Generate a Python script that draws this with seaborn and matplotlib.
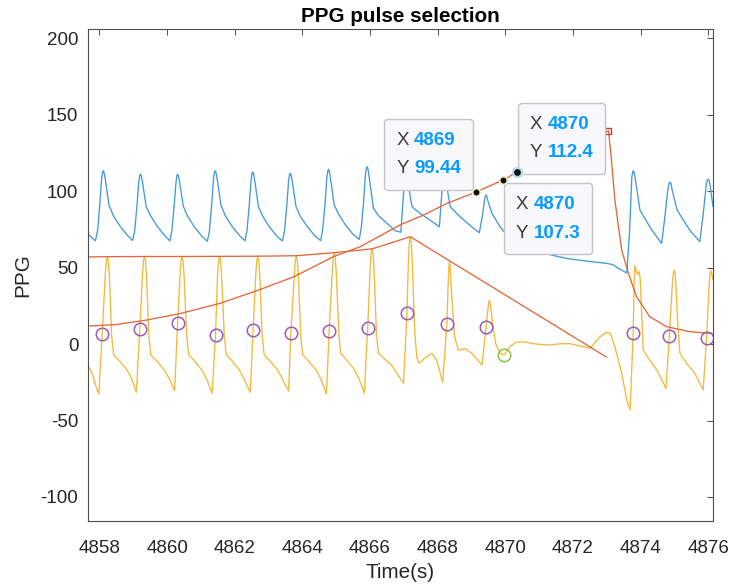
import matplotlib
matplotlib.use("Agg")
import matplotlib.pyplot as plt
import numpy as np
import pandas as pd
import seaborn as sns
from matplotlib.offsetbox import TextArea, HPacker, VPacker, AnnotationBbox, DrawingArea

# ---------------- data ----------------
blue_pts = [
    (4857.66, 72.0), (4857.80, 69.0), (4857.88, 67.6), (4857.95, 75), (4858.01, 92), (4858.06, 107.5),
    (4858.09, 112.3), (4858.11, 113.4), (4858.13, 112.6), (4858.16, 109.5), (4858.28, 91), (4858.41, 84),
    (4858.61, 77), (4858.83, 71), (4858.98, 67.8),
    (4859.04, 74), (4859.11, 91), (4859.16, 106), (4859.19, 110.2), (4859.21, 111.2), (4859.23, 110.4),
    (4859.26, 107.5), (4859.38, 90), (4859.51, 84), (4859.71, 77), (4859.93, 71), (4860.08, 67.5),
    (4860.14, 74), (4860.21, 91), (4860.26, 105.5), (4860.29, 110.1), (4860.31, 111.1), (4860.33, 110.3),
    (4860.36, 107), (4860.48, 90), (4860.61, 83.5), (4860.81, 76.5), (4861.03, 70.5), (4861.19, 67.3),
    (4861.25, 74), (4861.32, 92), (4861.37, 108), (4861.40, 112.4), (4861.42, 113.4), (4861.44, 112.6),
    (4861.47, 109.5), (4861.59, 91), (4861.72, 84), (4861.92, 77), (4862.14, 71), (4862.30, 67.6),
    (4862.36, 74), (4862.43, 91.5), (4862.48, 107), (4862.51, 111.6), (4862.53, 112.6), (4862.55, 111.8),
    (4862.58, 108.5), (4862.70, 90), (4862.83, 83.5), (4863.03, 76.5), (4863.25, 70.5), (4863.41, 67.4),
    (4863.47, 74), (4863.54, 91), (4863.59, 106.5), (4863.62, 110.7), (4863.64, 111.7), (4863.66, 110.9),
    (4863.69, 108), (4863.81, 90), (4863.94, 83.5), (4864.14, 77), (4864.36, 71), (4864.54, 67.7),
    (4864.60, 75), (4864.67, 92), (4864.72, 108.5), (4864.75, 113.3), (4864.77, 114.3), (4864.79, 113.5),
    (4864.82, 110), (4864.94, 91), (4865.07, 85), (4865.27, 78), (4865.49, 72), (4865.68, 68.5),
    (4865.74, 76), (4865.81, 93), (4865.86, 110.5), (4865.89, 115), (4865.91, 116), (4865.93, 115.2),
    (4865.96, 111.5), (4866.10, 88.8), (4866.25, 84), (4866.50, 79), (4866.74, 74.2), (4866.91, 73.2),
    (4866.98, 95), (4867.02, 108), (4867.04, 111), (4867.06, 112), (4867.08, 111), (4867.10, 108),
    (4867.24, 89.9), (4867.48, 85.5), (4867.78, 81), (4868.05, 76.8),
    (4868.11, 95), (4868.15, 108), (4868.17, 111), (4868.19, 112), (4868.21, 111), (4868.23, 108),
    (4868.37, 89.9), (4868.66, 83.3), (4869.06, 75.7), (4869.23, 72.9),
    (4869.33, 85), (4869.39, 95), (4869.41, 97), (4869.43, 97.5), (4869.45, 97), (4869.48, 94),
    (4869.60, 85.7), (4869.84, 76.8), (4870.10, 70), (4870.50, 64), (4870.93, 60.4), (4871.82, 56),
    (4872.50, 54), (4873.00, 52.8), (4873.18, 52), (4873.34, 49.6), (4873.59, 46.5),
    (4873.67, 72.5), (4873.74, 109.5), (4873.77, 112.8), (4873.79, 113.4), (4873.82, 111), (4873.88, 102.5),
    (4873.98, 87.7), (4874.33, 74.6), (4874.62, 65.9),
    (4874.70, 80), (4874.80, 100), (4874.84, 105), (4874.87, 106), (4874.90, 105), (4874.93, 101),
    (4875.08, 87.7), (4875.45, 74.6), (4875.75, 67),
    (4875.85, 85), (4875.94, 104), (4875.97, 107.2), (4876.00, 107.8), (4876.03, 107), (4876.06, 103),
    (4876.14, 89.9),
]

yellow_pts = [
    (4857.66, -13.7), (4857.80, -20), (4857.90, -28), (4857.98, -32.6),
    (4858.08, 6.4), (4858.17, 45), (4858.20, 54.2), (4858.23, 57.2), (4858.26, 54.2), (4858.29, 45),
    (4858.36, 5), (4858.42, -7), (4858.61, -11.5), (4858.82, -17), (4858.97, -23.5), (4859.09, -31.5),
    (4859.19, 9.9), (4859.27, 45), (4859.30, 54.5), (4859.33, 57.5), (4859.36, 54.5), (4859.39, 45),
    (4859.46, 5), (4859.52, -7), (4859.71, -11.5), (4859.92, -17), (4860.07, -23), (4860.22, -30.5),
    (4860.31, 13.6), (4860.38, 45), (4860.41, 54.5), (4860.44, 57.5), (4860.47, 54.5), (4860.50, 45),
    (4860.58, 5), (4860.64, -7), (4860.83, -11.5), (4861.03, -17), (4861.18, -23.5), (4861.33, -32.2),
    (4861.43, 6.0), (4861.49, 45), (4861.52, 54.5), (4861.55, 57.5), (4861.58, 54.5), (4861.61, 45),
    (4861.69, 5), (4861.75, -7), (4861.94, -11.5), (4862.14, -17), (4862.29, -23.5), (4862.46, -31.5),
    (4862.54, 9.0), (4862.62, 45), (4862.65, 54.5), (4862.68, 57.5), (4862.71, 54.5), (4862.74, 45),
    (4862.81, 5), (4862.87, -7), (4863.06, -11.5), (4863.27, -17), (4863.42, -23.5), (4863.59, -30.8),
    (4863.66, 7.5), (4863.76, 45), (4863.79, 54.8), (4863.82, 57.8), (4863.85, 54.8), (4863.88, 45),
    (4863.95, 5), (4864.01, -7), (4864.20, -11.5), (4864.41, -17), (4864.56, -23.5), (4864.71, -32.6),
    (4864.79, 8.6), (4864.88, 46), (4864.91, 56.8), (4864.94, 59.8), (4864.97, 56.8), (4865.00, 47),
    (4865.08, 6), (4865.13, -6), (4865.33, -11), (4865.53, -16.5), (4865.68, -23), (4865.83, -32.2),
    (4865.93, 10.7), (4866.00, 48), (4866.03, 59), (4866.06, 62), (4866.09, 59), (4866.12, 48),
    (4866.19, 6), (4866.25, -6), (4866.44, -10), (4866.65, -14), (4866.79, -19), (4866.99, -25.6),
    (4867.09, 20.5), (4867.13, 52), (4867.16, 66.5), (4867.19, 70.2), (4867.22, 66.5), (4867.25, 52),
    (4867.32, 8), (4867.38, -8), (4867.44, -12.5), (4867.63, -9), (4867.83, -6), (4867.97, -10.5),
    (4868.15, -25),
    (4868.27, 13.1), (4868.31, 40), (4868.33, 50.5), (4868.35, 54), (4868.37, 50.5), (4868.39, 40),
    (4868.50, 5), (4868.61, -4), (4868.81, -3), (4869.01, -6), (4869.31, -13.7),
    (4869.43, 11.0), (4869.50, 26), (4869.53, 28.8), (4869.56, 25.5), (4869.62, 14), (4869.72, 0),
    (4869.85, -6), (4869.96, -7.1), (4870.05, -4.5), (4870.14, -1.5), (4870.30, 1.0), (4870.53, 1.6),
    (4870.75, 0.6), (4870.93, 0), (4871.32, -0.6), (4871.60, 0.2), (4871.91, 0.3), (4872.25, -1.5),
    (4872.51, -2.6), (4872.80, 4.8), (4872.98, 7.5), (4873.10, 7.2), (4873.24, -1.7), (4873.44, -19),
    (4873.59, -36.5), (4873.69, -43),
    (4873.78, 7.5), (4873.81, 40), (4873.83, 51.5), (4873.87, 48), (4873.90, 45.5), (4873.94, 47),
    (4873.96, 47.4), (4873.99, 42), (4874.03, 20), (4874.08, -3.9), (4874.23, -9.3), (4874.48, -17),
    (4874.75, -28.9),
    (4874.85, 5.3), (4874.94, 40), (4874.97, 46.5), (4874.99, 48.5), (4875.02, 46), (4875.05, 36),
    (4875.08, 20), (4875.16, -5.8), (4875.36, -12.6), (4875.60, -19), (4875.85, -30),
    (4875.95, 4.2), (4876.03, 40), (4876.05, 46), (4876.07, 48), (4876.10, 46.5), (4876.14, 42),
]

envelope_pts = [
    (4857.66, 57.0), (4858.23, 57.2), (4859.33, 57.3), (4860.44, 57.3), (4861.55, 57.4),
    (4862.68, 57.5), (4863.82, 57.8), (4864.94, 59.8), (4866.06, 62.3), (4867.19, 70.2),
    (4873.00, -8.6),
]

trend_pts = [
    (4857.66, 11.8), (4858.50, 12.8), (4859.41, 15.8), (4860.39, 20), (4861.57, 26.7),
    (4862.66, 35), (4863.74, 44), (4864.92, 57.2), (4865.71, 63.7), (4866.89, 78),
    (4867.58, 84.4), (4868.27, 92), (4869.13, 99.44), (4869.93, 107.3), (4870.34, 112.4),
    (4871.20, 120), (4872.20, 129), (4873.05, 139.6), (4873.12, 124.8), (4873.24, 94),
    (4873.44, 61.5), (4873.64, 46.3), (4873.88, 31), (4874.27, 17.9), (4874.77, 11.4),
    (4875.46, 8.1), (4876.10, 7.0),
]

onset_t = [4858.08, 4859.19, 4860.31, 4861.43, 4862.54, 4863.66, 4864.79, 4865.93,
           4867.09, 4868.27, 4869.43, 4873.78, 4874.85, 4875.95]
onset_v = [6.4, 9.9, 13.6, 6.0, 9.0, 7.5, 8.6, 10.7, 20.5, 13.1, 11.0, 7.5, 5.3, 4.2]

reject_t = [4869.96]
reject_v = [-7.1]

end_t = [4873.05]
end_v = [139.6]

tip_t = [4869.13, 4869.93, 4870.34]
tip_v = [99.44, 107.3, 112.4]
tip_xlabel = ["4869", "4870", "4870"]
tip_ylabel = ["99.44", "107.3", "112.4"]

x_ticks = [4858, 4860, 4862, 4864, 4866, 4868, 4870, 4872, 4874, 4876]
y_ticks = [-100, -50, 0, 50, 100, 150, 200]

# ---------------- style ----------------
sns.set_style("white")
plt.rcParams['font.family'] = ['Liberation Sans', 'DejaVu Sans']

C_BLUE = "#4499d6"
C_YELLOW = "#f2b93c"
C_ORANGE = "#e0683c"
C_PURPLE = "#9a5bb8"
C_GREEN = "#8cc152"
C_RED = "#c23a4c"
C_AX = "#4d4d4d"
C_TXT = "#262626"

W, H = 731, 587
fig = plt.figure(figsize=(W / 100, H / 100), dpi=100)
ax = fig.add_axes([88 / W, 1 - 521 / H, (713 - 88) / W, (521 - 29) / H])


def df(pts):
    return pd.DataFrame(pts, columns=["t", "v"])


LW = 0.95
sns.lineplot(data=df(blue_pts), x="t", y="v", sort=False, estimator=None,
             color=C_BLUE, linewidth=LW, ax=ax)
sns.lineplot(data=df(yellow_pts), x="t", y="v", sort=False, estimator=None,
             color=C_YELLOW, linewidth=LW, ax=ax)
sns.lineplot(data=df(envelope_pts), x="t", y="v", sort=False, estimator=None,
             color=C_ORANGE, linewidth=LW, ax=ax)
sns.lineplot(data=df(trend_pts), x="t", y="v", sort=False, estimator=None,
             color=C_ORANGE, linewidth=LW, ax=ax)

sns.lineplot(x=onset_t, y=onset_v, sort=False, estimator=None, marker="o", linestyle="",
             markersize=9, markerfacecolor="none", markeredgecolor=C_PURPLE,
             markeredgewidth=1.1, ax=ax)
sns.lineplot(x=reject_t, y=reject_v, sort=False, estimator=None, marker="o", linestyle="",
             markersize=9, markerfacecolor="none", markeredgecolor=C_GREEN,
             markeredgewidth=1.1, ax=ax)
sns.lineplot(x=end_t, y=end_v, sort=False, estimator=None, marker="s", linestyle="",
             markersize=5, markerfacecolor="none", markeredgecolor=C_RED,
             markeredgewidth=1.0, ax=ax)

# data tip markers (drawn above the tip boxes)
sns.lineplot(x=tip_t[:2], y=tip_v[:2], sort=False, estimator=None, marker="o", linestyle="",
             markersize=5.5, markerfacecolor="#111111", markeredgecolor="#f3efc4",
             markeredgewidth=1.2, zorder=12, ax=ax)
sns.lineplot(x=tip_t[2:], y=tip_v[2:], sort=False, estimator=None, marker="o", linestyle="",
             markersize=6.5, markerfacecolor="#111111", markeredgecolor="#b9dbe8",
             markeredgewidth=1.6, zorder=12, ax=ax)

# data tip boxes: (alignment, offset in pixels) per tip
tip_align = [(1, 0), (0, 1), (0, 0)]
tip_offset = [(-15, 14), (13, -15), (13, 10)]
FS_TIP = 13.5
for t, v, xl, yl, al, off in zip(tip_t, tip_v, tip_xlabel, tip_ylabel, tip_align, tip_offset):
    row1 = HPacker(children=[
        TextArea("X", textprops=dict(color="#3c3c3c", fontsize=FS_TIP)),
        TextArea(xl, textprops=dict(color="#0a9bff", fontsize=FS_TIP, fontweight="bold")),
    ], align="baseline", pad=0, sep=4)
    row2 = HPacker(children=[
        TextArea("Y", textprops=dict(color="#3c3c3c", fontsize=FS_TIP)),
        TextArea(yl, textprops=dict(color="#0a9bff", fontsize=FS_TIP, fontweight="bold")),
    ], align="baseline", pad=0, sep=4)
    inner = VPacker(children=[row1, row2], align="left", pad=0, sep=8.2)
    box = VPacker(children=[DrawingArea(1, 0.8), inner, DrawingArea(1, 0.8)],
                  align="left", pad=0, sep=0)
    ab = AnnotationBbox(box, (t, v), xybox=off, xycoords="data", boxcoords="offset pixels",
                        box_alignment=al, frameon=True, pad=0.7, fontsize=12,
                        bboxprops=dict(boxstyle="round,pad=0.7,rounding_size=0.22",
                                       facecolor="#f8f8fa", edgecolor="#c4c4c8", linewidth=1.0))
    ab.set_zorder(10)
    ax.add_artist(ab)

# ---------------- axes ----------------
ax.set_xlim(4857.66, 4876.14)
ax.set_ylim(-115.7, 206.1)
ax.set_xticks(x_ticks)
ax.set_xticklabels([str(v) for v in x_ticks])
ax.set_yticks(y_ticks)
ax.set_yticklabels([str(v) for v in y_ticks])
ax.tick_params(direction="in", length=4.5, width=0.7, colors=C_AX, labelcolor=C_TXT,
               labelsize=13.5, top=True, right=True, pad=7)
ax.tick_params(axis="x", pad=14)
for s in ax.spines.values():
    s.set_visible(True)
    s.set_color(C_AX)
    s.set_linewidth(0.8)

ax.set_xlabel("Time(s)", fontsize=14.85, color=C_TXT, labelpad=4)
ax.set_ylabel("PPG", fontsize=14.85, color=C_TXT, labelpad=6)
ax.set_title("PPG pulse selection", fontsize=14.85, fontweight="bold", color="#000000", pad=5)

fig.savefig("out.png", dpi=100)
